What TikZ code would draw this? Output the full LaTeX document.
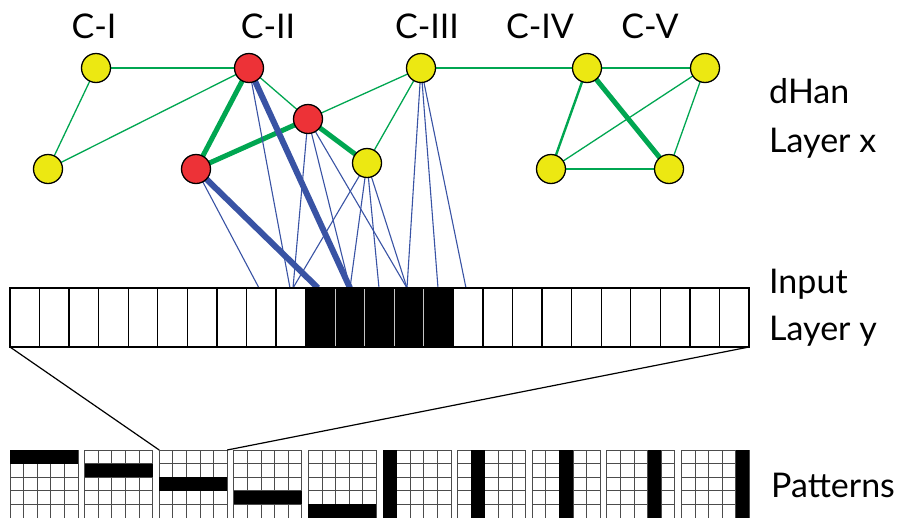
\documentclass[tikz,border=0pt]{standalone}
\usepackage{fontspec}
\setmainfont{Lato}
\definecolor{ylw}{HTML}{ECE812}
\definecolor{rdc}{HTML}{ED3237}
\definecolor{grn}{HTML}{00A651}
\definecolor{blu}{HTML}{3953A4}
\pgfdeclarelayer{bg}
\pgfsetlayers{bg,main}
\begin{document}
\begin{tikzpicture}[x=1pt,y=-1pt,
  nd/.style={circle,draw=black,line width=1.3pt,minimum size=29pt,inner sep=0pt},
  yel/.style={nd,fill=ylw},
  rd/.style={nd,fill=rdc},
  gthin/.style={draw=grn,line width=1.3pt},
  gmed/.style={draw=grn,line width=2.4pt},
  gthick/.style={draw=grn,line width=5pt},
  bthin/.style={draw=blu,line width=1.1pt},
  bthick/.style={draw=blu,line width=6pt},
  lbl/.style={font=\fontsize{34}{40}\selectfont,inner sep=0pt},
  cell/.style={draw=none,minimum width=29.56pt,minimum height=59pt,inner sep=0pt,outer sep=0pt,fill=white},
  bcell/.style={cell,fill=black},
  sep/.style={line width=1.3pt},
  gline/.style={draw=black!70,line width=0.8pt},
  pat/.style={minimum width=68pt,minimum height=68pt,inner sep=0pt,outer sep=0pt,anchor=north west}]
\useasboundingbox (0,0) rectangle (902,517);

% labels
\node[lbl,anchor=base] (l1) at (94,38) {C-I};
\node[lbl,anchor=base] (l2) at (268,38) {C-II};
\node[lbl,anchor=base] (l3) at (427,38) {C-III};
\node[lbl,anchor=base] (l4) at (540,38) {C-IV};
\node[lbl,anchor=base] (l5) at (650,38) {C-V};
\node[lbl,anchor=base west] (t1) at (769,103) {dHan};
\node[lbl,anchor=base west] (t2) at (769,152) {Layer x};
\node[lbl,anchor=base west] (t3) at (769,293) {Input};
\node[lbl,anchor=base west] (t4) at (769,340) {Layer y};
\node[lbl,anchor=base west] (t5) at (771,497) {Patterns};

% graph nodes
\node[yel] (c1a) at (96,68) {};
\node[yel] (c1b) at (48,169) {};
\node[rd] (c2a) at (249,68) {};
\node[rd] (c2b) at (308,119) {};
\node[rd] (c2c) at (196,169) {};
\node[yel] (c2d) at (367,163) {};
\node[yel] (c3) at (421,68) {};
\node[yel] (c4a) at (587,68) {};
\node[yel] (c5a) at (705,68) {};
\node[yel] (c4b) at (551,169) {};
\node[yel] (c5b) at (669,169) {};

% blue endpoints on the input layer
\coordinate (p1) at (259,288);
\coordinate (p2) at (290,288);
\coordinate (p3) at (293,288);
\coordinate (p4) at (318,288);
\coordinate (p5) at (350,288);
\coordinate (p6) at (379,288);
\coordinate (p7) at (407,288);
\coordinate (p8) at (438,288);
\coordinate (p9) at (466,288);

\begin{pgfonlayer}{bg}
% green edges
\draw[gthin] (c1a.center) -- (c2a.center);
\draw[gthin] (c1a.center) -- (c1b.center);
\draw[gthin] (c1b.center) -- (c2a.center);
\draw[gthin] (c2a.center) -- (c2b.center);
\draw[gthick] (c2a.center) -- (c2c.center);
\draw[gthick] (c2c.center) -- (c2b.center);
\draw[gthick] (c2b.center) -- (c2d.center);
\draw[gthin] (c2b.center) -- (c3.center);
\draw[gthin] (c3.center) -- (c2d.center);
\draw[gthin] (c3.center) -- (c4a.center);
\draw[gthin] (c4a.center) -- (c5a.center);
\draw[gmed] (c4a.center) -- (c4b.center);
\draw[gthick] (c4a.center) -- (c5b.center);
\draw[gthin] (c5a.center) -- (c4b.center);
\draw[gthin] (c5a.center) -- (c5b.center);
\draw[gthin] (c4b.center) -- (c5b.center);
% blue edges
\draw[bthin] (c2c.center) -- (p1);
\draw[bthick] (c2c.center) -- (p4);
\draw[bthin] (c2a.center) -- (p2);
\draw[bthick] (c2a.center) -- (p5);
\draw[bthin] (c2b.center) -- (p3);
\draw[bthin] (c2b.center) -- (p5);
\draw[bthin] (c2b.center) -- (p7);
\draw[bthin] (c2d.center) -- (p3);
\draw[bthin] (c2d.center) -- (p5);
\draw[bthin] (c2d.center) -- (p6);
\draw[bthin] (c2d.center) -- (p7);
\draw[bthin] (c3.center) -- (p7);
\draw[bthin] (c3.center) -- (p8);
\draw[bthin] (c3.center) -- (p9);
\end{pgfonlayer}

% input layer
\foreach \i in {0,...,24}{
  \ifnum\i<10
    \node[cell] (in\i) at ({10+29.56*(\i+0.5)},317.5) {};
  \else\ifnum\i<15
    \node[bcell] (in\i) at ({10+29.56*(\i+0.5)},317.5) {};
  \else
    \node[cell] (in\i) at ({10+29.56*(\i+0.5)},317.5) {};
  \fi\fi
}
\foreach \i in {1,...,24}{
  \ifnum\i>10 \ifnum\i<15
    \draw[sep,draw=gray!45,line width=0.8pt] ({10+29.56*\i},288) -- ({10+29.56*\i},347);
  \else
    \draw[sep] ({10+29.56*\i},288) -- ({10+29.56*\i},347);
  \fi\else
    \draw[sep] ({10+29.56*\i},288) -- ({10+29.56*\i},347);
  \fi
}
\draw[line width=1.8pt] (in0.north west) rectangle (in24.south east);

% patterns
\foreach \k in {0,...,9}{
  \node[pat] (pt\k) at ({10+74.6*\k},450) {};
  \begin{scope}[shift={(pt\k.north west)}]
    \foreach \j in {0,...,5}{
      \draw[gline] ({13.6*\j},0) -- ({13.6*\j},68);
      \draw[gline] (0,{13.6*\j}) -- (68,{13.6*\j});
    }
    \ifnum\k<5
      \fill[black] (0,{13.6*\k}) rectangle (68,{13.6*(\k+1)});
    \else
      \fill[black] ({13.6*(\k-5)},0) rectangle ({13.6*(\k-4)},68);
    \fi
  \end{scope}
}
\draw[line width=1.2pt] (in0.south west) -- (pt2.north west);
\draw[line width=1.2pt] (in24.south east) -- (pt2.north east);
\end{tikzpicture}
\end{document}
